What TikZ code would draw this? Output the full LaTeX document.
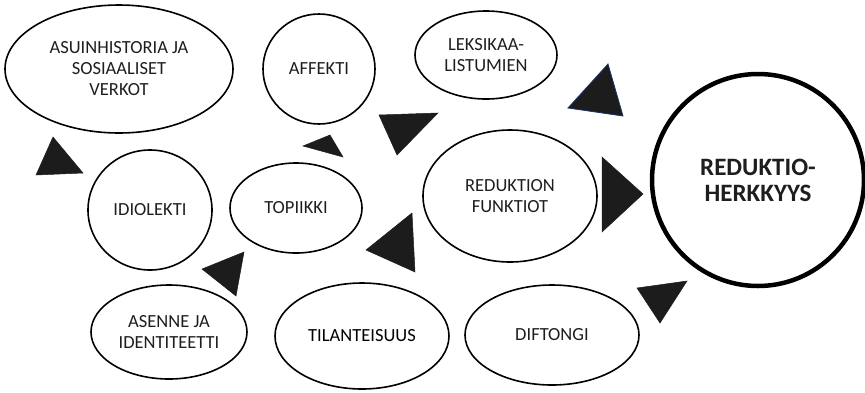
\documentclass[tikz,border=0pt]{standalone}
\usepackage{fontspec}
\setmainfont{Carlito}
\usetikzlibrary{shapes.geometric}
\definecolor{txt}{HTML}{1E1E1E}
\definecolor{tri}{HTML}{1C1C1C}
\tikzset{
  oval/.style={ellipse, draw=black, line width=1.6pt, inner sep=0pt, align=center,
    text=txt, font=\fontsize{18.5}{21}\selectfont},
  bigcircle/.style={circle, draw=black, line width=4.5pt, inner sep=0pt, align=center,
    text=txt, font=\fontsize{25}{26}\selectfont\bfseries, minimum size=212pt},
  tip/.style={fill=tri, draw=tri, line width=0.5pt, line join=miter},
}
\begin{document}
\begin{tikzpicture}[x=1pt,y=-1pt]
\useasboundingbox (0,0) rectangle (865,392);
\node[oval, minimum width=228pt, minimum height=128pt] (asuin) at (119,69) {ASUINHISTORIA JA\\SOSIAALISET\\VERKOT};
\node[oval, minimum width=112pt, minimum height=110pt] (affekti) at (319,69) {AFFEKTI};
\node[oval, minimum width=142pt, minimum height=88pt] (leks) at (486,55) {LEKSIKAA-\\LISTUMIEN};
\node[bigcircle] (herk) at (758,180) {REDUKTIO-\\HERKKYYS};
\node[oval, minimum width=124pt, minimum height=120pt] (idio) at (150,210) {IDIOLEKTI};
\node[oval, minimum width=132pt, minimum height=90pt] (topi) at (296,208) {TOPIIKKI};
\node[oval, minimum width=174pt, minimum height=132pt] (funk) at (510,196) {REDUKTION\\FUNKTIOT};
\node[oval, minimum width=156pt, minimum height=94pt] (asenne) at (169,332) {ASENNE JA\\IDENTITEETTI};
\node[oval, minimum width=174pt, minimum height=106pt, text=black] (tila) at (362,336) {TILANTEISUUS};
\node[oval, minimum width=174pt, minimum height=100pt] (dift) at (552,335) {DIFTONGI};
% arrowheads
\fill[tip] (53,137) -- (36,175) -- (83,173) -- cycle;
\fill[tip] (303,146) -- (330,135) -- (343,157) -- cycle;
\fill[tip] (379,115) -- (438,113) -- (397,155) -- cycle;
\filldraw[fill=tri, draw={rgb,255:red,30;green,50;blue,110}, line width=0.8pt] (608,64) -- (568,108) -- (623,116) -- cycle;
\fill[tip] (602,157) -- (643,194) -- (602,232) -- cycle;
\fill[tip] (637,288) -- (687,281) -- (660,323) -- cycle;
\fill[tip] (202,269) -- (244,252) -- (236,296) -- cycle;
\fill[tip] (366,250) -- (412,213) -- (415,272) -- cycle;
\end{tikzpicture}
\end{document}
